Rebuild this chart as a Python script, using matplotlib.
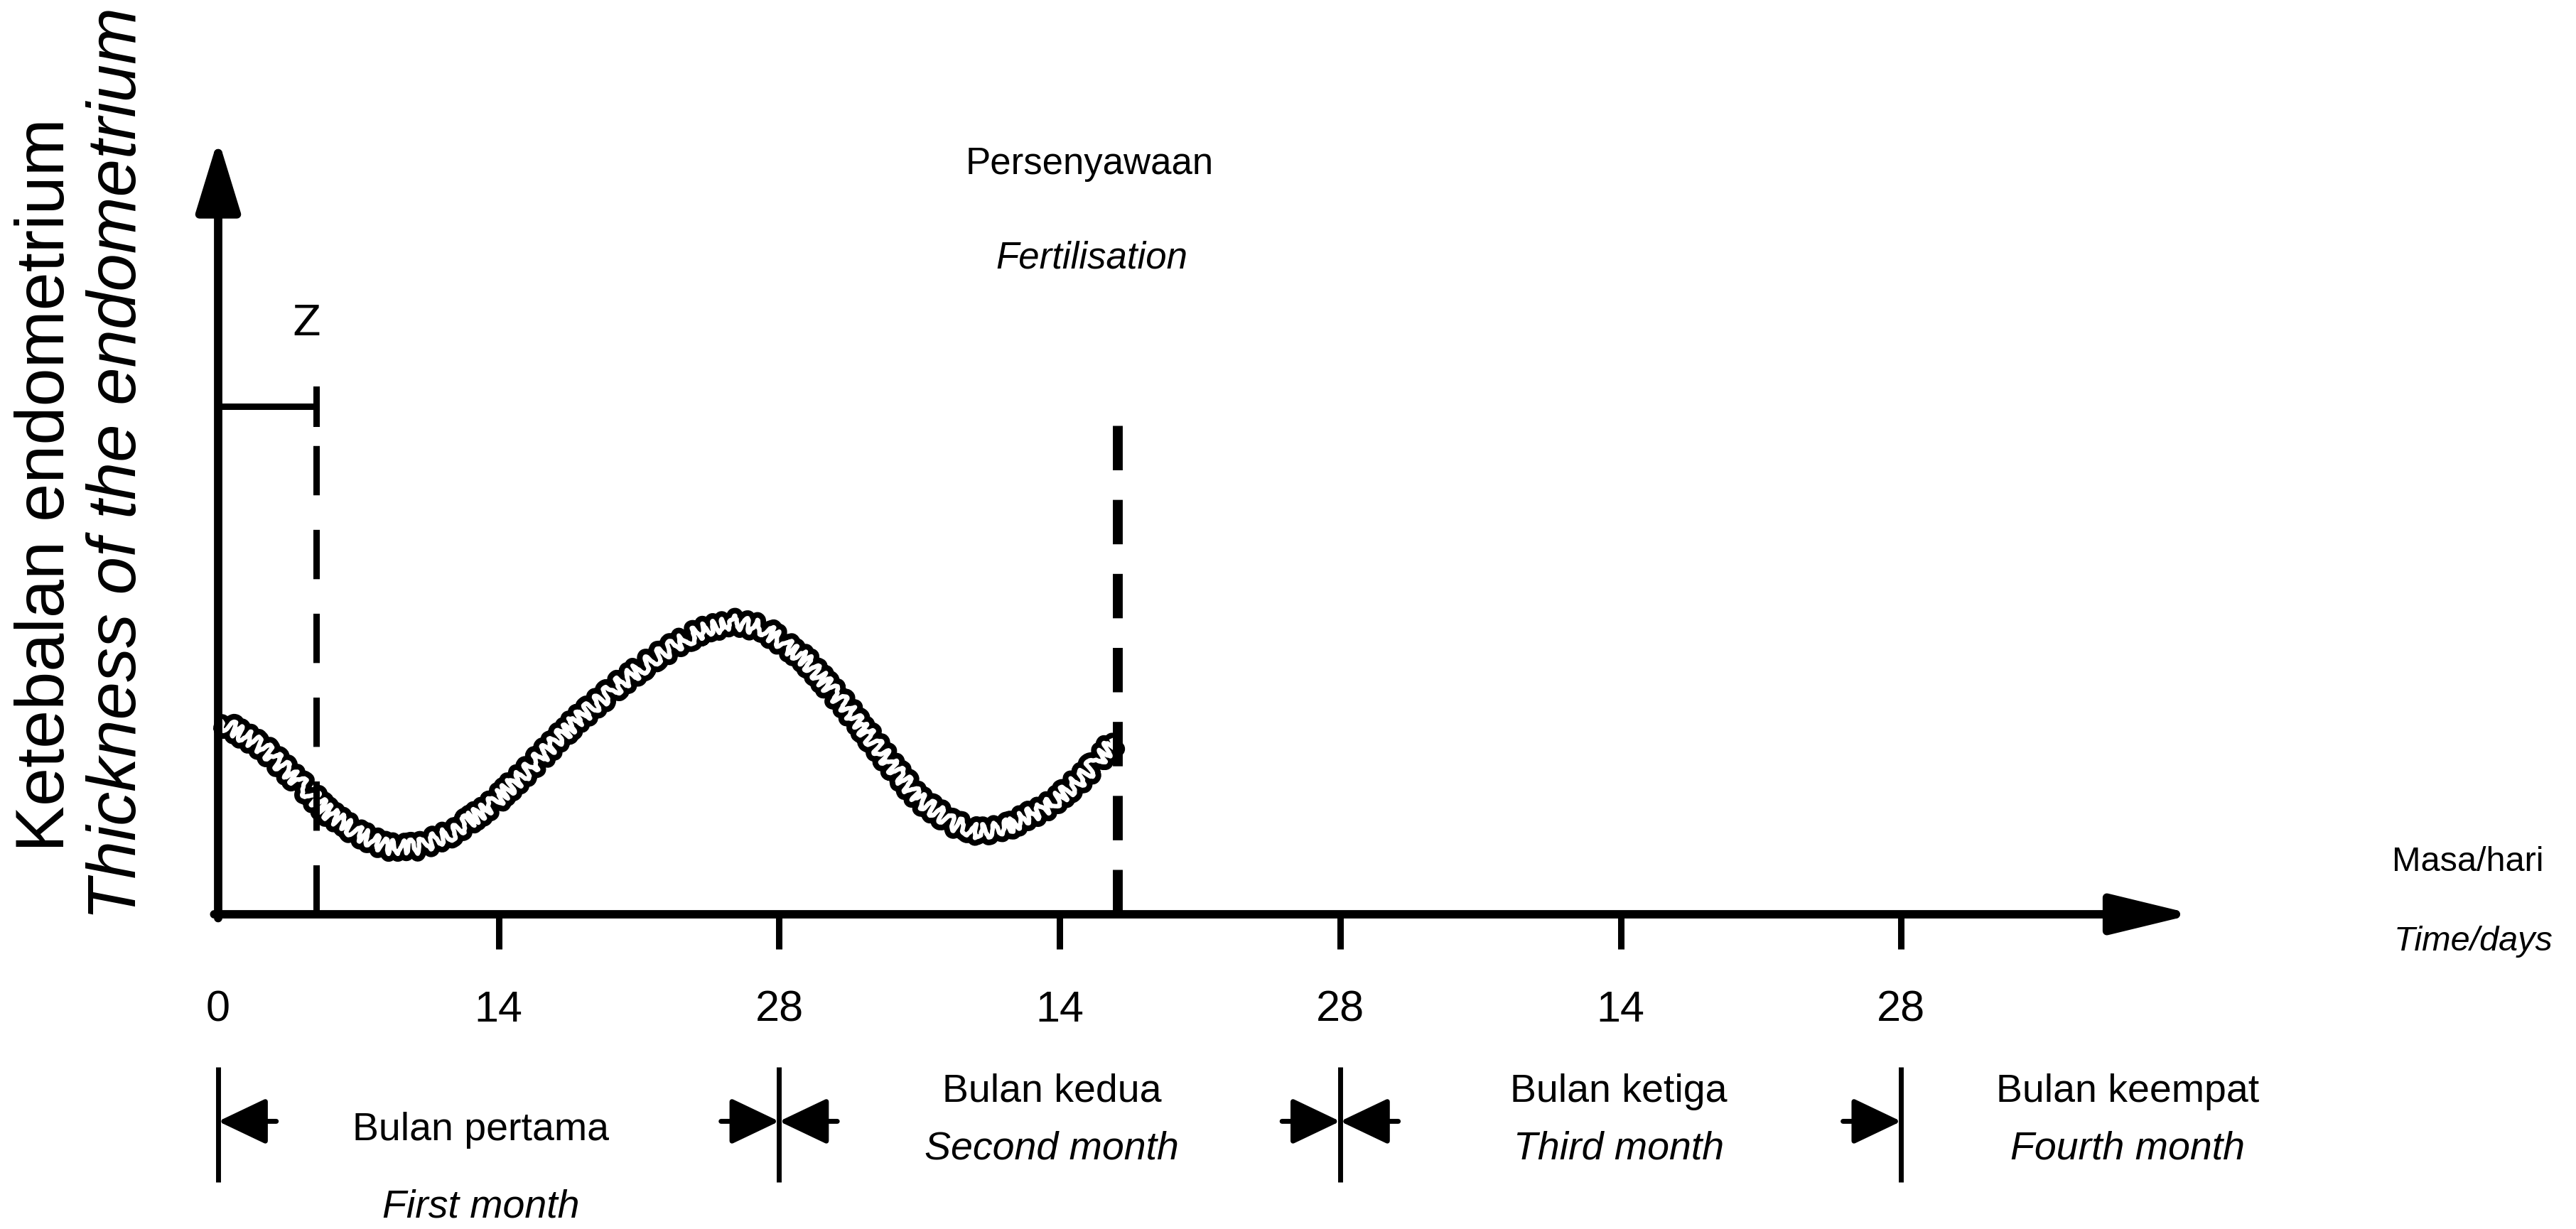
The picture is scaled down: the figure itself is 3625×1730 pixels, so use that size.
import matplotlib.pyplot as plt

plt.rcParams['lines.scale_dashes'] = False

# -------------------------
# Data
# -------------------------
# endometrium thickness (relative units, 100 = top of y arrow) vs day
days = [0.2, 2.2, 3.9, 5.5, 7.0, 8.4, 10.0, 11.6, 13.7, 15.8, 17.8, 19.9, 21.9,
        24.0, 25.6, 27.2, 29.3, 31.3, 33.4, 35.0, 36.7, 38.0, 39.5, 41.6, 43.2, 44.7]
thickness = [24.8, 21.6, 17.4, 13.1, 10.4, 8.7, 8.7, 10.4, 14.2, 19.5, 24.8, 29.4, 33.3,
             36.4, 37.7, 36.9, 32.8, 26.9, 19.9, 14.8, 11.7, 10.6, 11.4, 14.2, 17.8, 22.2]

tick_days = [0, 14, 28, 42, 56, 70, 84]
tick_labels = ['0', '14', '28', '14', '28', '14', '28']

month_bounds = [0, 28, 56, 84]
month_ms = ['Bulan pertama', 'Bulan kedua', 'Bulan ketiga', 'Bulan keempat']
month_en = ['First month', 'Second month', 'Third month', 'Fourth month']

z_day = 4.9            # end of period Z
z_level = 65.5
fert_day = 44.9        # fertilisation
fert_top = 66.5

font = 'Liberation Sans'

# -------------------------
# Figure / axes
# -------------------------
W, H = 3625, 1731
fig = plt.figure(figsize=(W / 100, H / 100), dpi=100)
x0, x1 = 307, 3087
y0, y1 = 1288, 196.5
ax = fig.add_axes([x0 / W, (H - y0) / H, (x1 - x0) / W, (y0 - y1) / H])
xmax = 98.6
ax.set_xlim(0, xmax)
ax.set_ylim(0, 100)
ax.axis('off')

# axes with arrows
ax.annotate('', xy=(xmax, 0), xytext=(-0.2, 0), annotation_clip=False,
            arrowprops=dict(arrowstyle='-|>,head_length=0.7,head_width=0.17', lw=8.5,
                            color='k', mutation_scale=100, shrinkA=0, shrinkB=0))
ax.annotate('', xy=(0, 100), xytext=(0, -0.5), annotation_clip=False,
            arrowprops=dict(arrowstyle='-|>,head_length=0.62,head_width=0.19', lw=8.5,
                            color='k', mutation_scale=100, shrinkA=0, shrinkB=0))

# ticks below axis
ax.vlines(tick_days[1:], -4.5, 0, color='k', lw=6.5, clip_on=False)
for d, lab in zip(tick_days, tick_labels):
    ax.text(d, -12.3, lab, ha='center', va='center', fontsize=44, family=font)

# curve: thick rope-like line
line1, = ax.plot(days, thickness, color='k', lw=16, solid_capstyle='round', clip_on=False)
line1.set_sketch_params(scale=10, length=26, randomness=6)
line2, = ax.plot(days, thickness, color='white', lw=4.5, clip_on=False)
line2.set_sketch_params(scale=10, length=26, randomness=6)

# Z bracket and dashed line
ax.plot([z_day, z_day], [0, z_level], color='k', lw=6.5, dashes=(50, 35))
ax.plot([0, z_day], [z_level, z_level], color='k', lw=6.5)
ax.plot([z_day, z_day], [z_level - 2.2, z_level + 2.2], color='k', lw=6.5)
ax.text(4.4, 76.3, 'Z', ha='center', va='center', fontsize=42, family='DejaVu Sans')

# fertilisation dashed line
ax.plot([fert_day, fert_day], [0, fert_top], color='k', lw=10, dashes=(45, 30))
ax.text(43.5, 96.8, 'Persenyawaan', ha='center', va='center', fontsize=38, family=font)
ax.text(43.6, 84.7, 'Fertilisation', ha='center', va='center', fontsize=38,
        family=font, style='italic')

# y label
ax.text(-8.6, 55.5, 'Ketebalan endometrium', rotation=90, ha='center', va='center',
        fontsize=70, family=font)
ax.text(-5.0, 58.2, 'Thickness of the endometrium', rotation=90, ha='center',
        va='center', fontsize=69, family=font, style='italic')

# x label
ax.text(108.5, 6.8, 'Masa/hari', ha='left', va='center', fontsize=35, family=font)
ax.text(108.6, -3.4, 'Time/days', ha='left', va='center', fontsize=35,
        family=font, style='italic')

# months
arrow_y = -26.7
for b in month_bounds:
    ax.vlines(b, -34.5, -19.7, color='k', lw=5, clip_on=False)
head = dict(arrowstyle='-|>,head_length=0.42,head_width=0.2', lw=5, color='k',
            mutation_scale=100, shrinkA=0, shrinkB=0)
for i in range(3):
    a, b = month_bounds[i], month_bounds[i + 1]
    ax.annotate('', xy=(a, arrow_y), xytext=(a + 2.9, arrow_y), arrowprops=head,
                annotation_clip=False)
    ax.annotate('', xy=(b, arrow_y), xytext=(b - 2.9, arrow_y), arrowprops=head,
                annotation_clip=False)

label_x = [13.1, 41.6, 69.9, 95.3]
label_y_ms = [-27.8, -22.8, -22.8, -22.8]
label_y_en = [-37.7, -30.2, -30.2, -30.2]
for i in range(4):
    ax.text(label_x[i], label_y_ms[i], month_ms[i], ha='center', va='center',
            fontsize=40, family=font)
    ax.text(label_x[i], label_y_en[i], month_en[i], ha='center', va='center',
            fontsize=40, family=font, style='italic')

fig.savefig('out.png', dpi=100, facecolor='white')
